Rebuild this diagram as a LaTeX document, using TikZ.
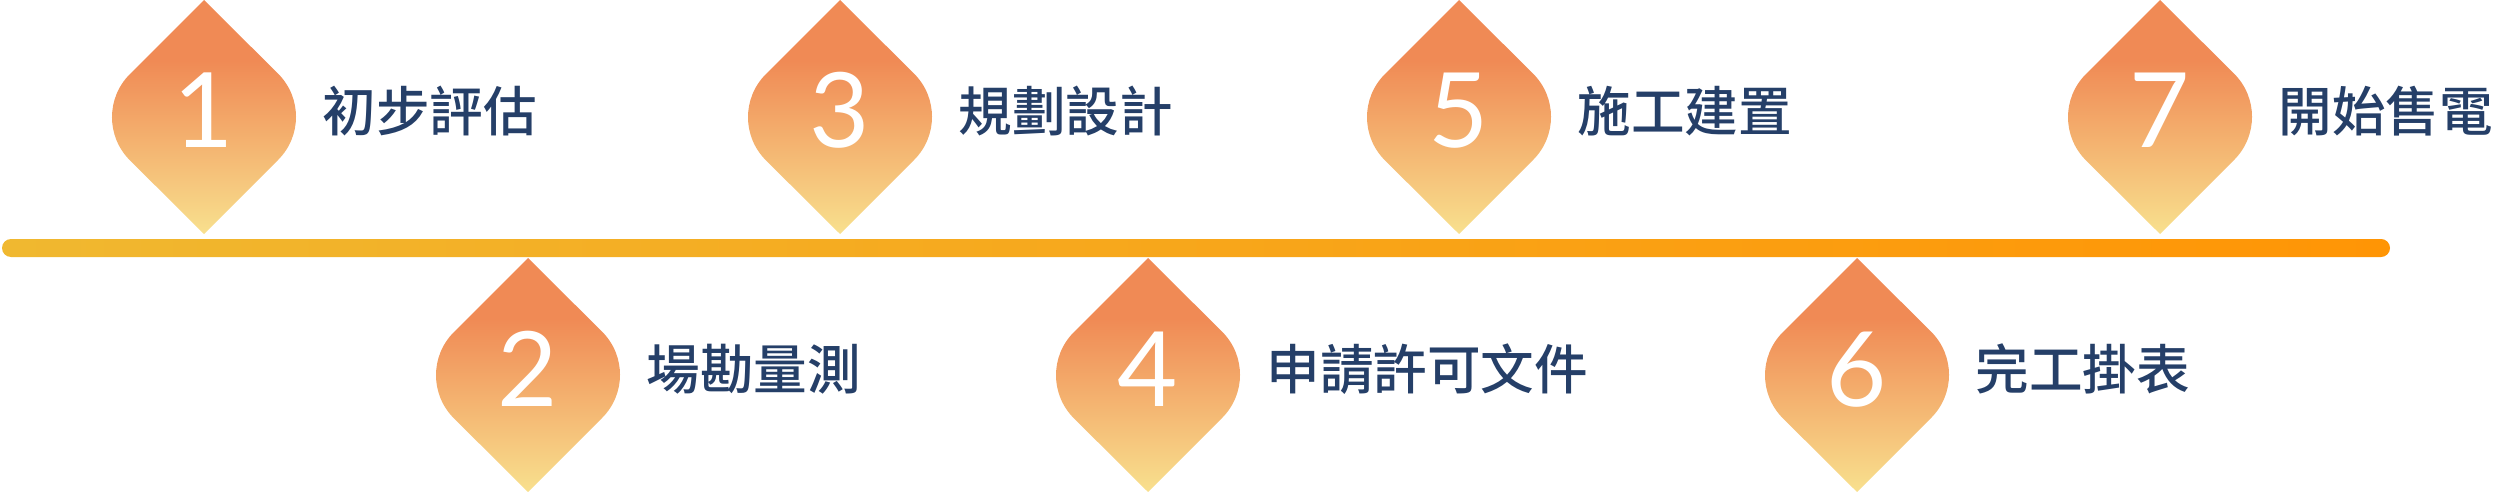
\documentclass[tikz,border=0pt]{standalone}
\usepackage{fontspec}
\newfontfamily\cjk{Noto Sans CJK TC}[UprightFont={* Medium}]
\newfontfamily\digitfont{Lato}
\definecolor{porg}{RGB}{240,138,85}
\definecolor{pyel}{RGB}{248,224,142}
\definecolor{barL}{RGB}{240,184,48}
\definecolor{barR}{RGB}{255,149,5}
\definecolor{navy}{RGB}{37,63,104}
\pgfdeclareverticalshading{petalshade}{100bp}{color(0bp)=(pyel); color(25bp)=(pyel); color(62bp)=(porg); color(100bp)=(porg)}
\tikzset{
  petal/.pic={
    \shade[shading=petalshade] (0,117) -- (-74.2,42.8) arc[start angle=135,end angle=225,radius=30.4pt]
      -- (0,-117) -- (74.2,-42.8) arc[start angle=-45,end angle=45,radius=30.4pt] -- cycle;
  },
  num/.style={anchor=base, inner sep=0pt, text=white, font=\digitfont\fontsize{52pt}{52pt}\selectfont},
  lbl/.style={anchor=west, inner sep=0pt, text=navy, font=\cjk\fontsize{26.8pt}{32pt}\selectfont},
}
\begin{document}
\begin{tikzpicture}[x=0.5pt,y=0.5pt]
\useasboundingbox (0,0) rectangle (2500,-492);
% timeline bar
\shade[left color=barL, right color=barR, rounded corners=4.5pt] (2,-239) rectangle (2390,-257);
% petals
\foreach \cx/\cy in {204/-117, 840/-117, 1459/-117, 2160/-117, 528/-375, 1148/-375, 1857/-375}
  \pic at (\cx,\cy) {petal};
% numbers
\node[num] (n1) at (204,-148) {1};
\node[num] (n3) at (840,-148) {3};
\node[num] (n5) at (1459,-148) {5};
\node[num] (n7) at (2160,-148) {7};
\node[num] (n2) at (528,-406) {2};
\node[num] (n4) at (1148,-406) {4};
\node[num] (n6) at (1857,-406) {6};
% labels
\node[lbl] (t1) at (322,-111) {初步評估};
\node[lbl] (t3) at (958,-111) {規劃設計};
\node[lbl] (t5) at (1577,-111) {施工建置};
\node[lbl] (t7) at (2278,-111) {開始售電};
\node[lbl] (t2) at (646,-369) {場勘量測};
\node[lbl] (t4) at (1266,-369) {申請許可文件};
\node[lbl] (t6) at (1975,-369) {完工掛表};
\end{tikzpicture}
\end{document}
